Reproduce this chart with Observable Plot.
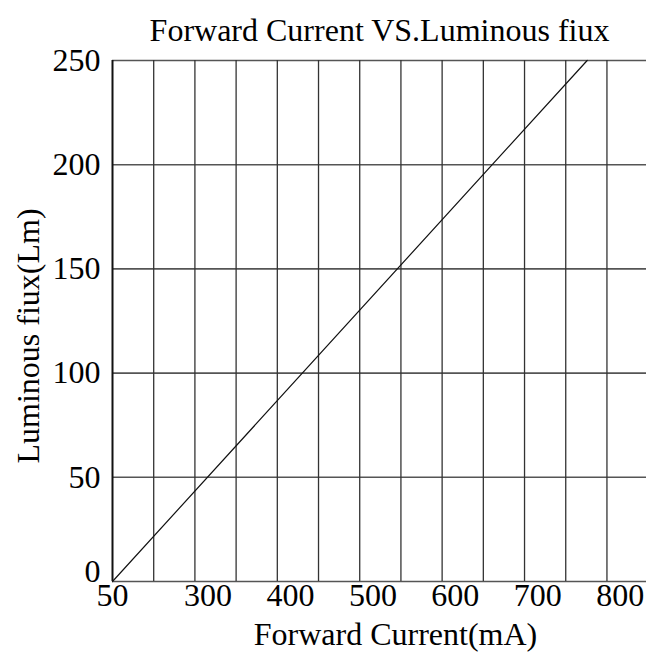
<!DOCTYPE html>
<html><head><meta charset="utf-8">
<script src="https://cdn.jsdelivr.net/npm/d3@7"></script>
<script src="https://cdn.jsdelivr.net/npm/@observablehq/plot@0.6"></script>
<style>body{margin:0;background:#fff}</style>
</head><body><div id="chart"></div>
<script>
const title = "Forward Current VS.Luminous fiux";
const xLabel = "Forward Current(mA)";
const yLabel = "Luminous fiux(Lm)";
// the x axis starts at a break, labelled "50"
const xAxisStart = 184;
const xAxisEnd = 832;
const xTickValues = [184, 300, 400, 500, 600, 700, 800];
const xTickLabels = ["50", "300", "400", "500", "600", "700", "800"];
const yTickValues = [0, 50, 100, 150, 200, 250];
const xGridStep = 50;
const currentMA = [184, 760];
const fluxLm = [0, 250];

const data = currentMA.map((c, i) => ({current: c, flux: fluxLm[i]}));
const xGrid = d3.range(xAxisStart + xGridStep, xAxisEnd, xGridStep);
const font = "Liberation Serif, Times New Roman, serif";
const fs = 32;

const chart = Plot.plot({
  width: 646,
  height: 652,
  marginTop: 60,
  marginBottom: 71,
  marginLeft: 112,
  marginRight: 0,
  style: {fontFamily: font, background: "#fff", color: "#000"},
  x: {domain: [xAxisStart, xAxisEnd]},
  y: {domain: [0, 250]},
  marks: [
    Plot.ruleY(yTickValues, {stroke: "#555", strokeWidth: 1.6}),
    Plot.ruleX(xGrid, {stroke: "#333", strokeWidth: 1.3}),
    Plot.ruleX([xAxisStart], {stroke: "#111", strokeWidth: 2}),
    Plot.line(data, {x: "current", y: "flux", stroke: "#111", strokeWidth: 1.2}),
    Plot.axisY(yTickValues.filter(d => d > 0), {tickSize: 0, tickPadding: 12, fontSize: fs, label: null}),
    Plot.axisY([0], {tickSize: 0, tickPadding: 12, fontSize: fs, label: null, dy: -10}),
    Plot.axisX(xTickValues, {tickSize: 0, tickPadding: 2, fontSize: fs, label: null,
      tickFormat: d => xTickLabels[xTickValues.indexOf(d)]}),
    Plot.text([title], {frameAnchor: "top", lineAnchor: "middle", dy: -30, fontSize: fs}),
    Plot.text([xLabel], {frameAnchor: "bottom", lineAnchor: "middle", textAnchor: "middle", dy: 53, dx: 16, fontSize: fs}),
    Plot.text([yLabel], {frameAnchor: "left", lineAnchor: "middle", textAnchor: "middle", dx: -84, dy: 15, rotate: -90, fontSize: fs})
  ]
});
document.getElementById("chart").append(chart);
</script>
</body></html>
